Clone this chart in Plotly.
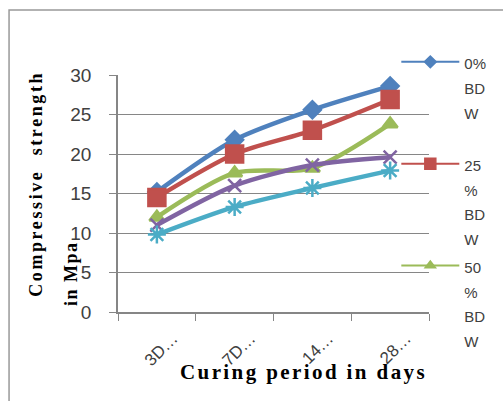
import plotly.graph_objects as go

categories = ["3D…", "7D…", "14…", "28…"]
series_names = ["0%<br>BD<br>W<br> ", "25<br>%<br>BD<br>W", "50<br>%<br>BD<br>W", "75<br>%<br>BD<br>W", "100<br>%<br>BD<br>W"]
bdw_0 = [15.2, 21.8, 25.6, 28.6]
bdw_25 = [14.5, 20.0, 23.0, 26.9]
bdw_50 = [12.0, 17.6, 18.2, 23.8]
bdw_75 = [11.0, 16.0, 18.6, 19.6]
bdw_100 = [9.8, 13.3, 15.7, 17.9]
y_ticks = [0, 5, 10, 15, 20, 25, 30]

colors = ["#4F81BD", "#C0504D", "#9BBB59", "#8064A2", "#4BACC6"]
symbols = ["diamond", "square", "triangle-up", "x-thin-open", "asterisk-open"]
msizes = [13, 17, 13, 13, 15]
legend_msizes = [9, 11, 9, 9, 9]
values = [bdw_0, bdw_25, bdw_50, bdw_75, bdw_100]
show = [True, True, True, False, False]

fig = go.Figure()
for name, vals, c, s, ms in zip(series_names, values, colors, symbols, msizes):
    fig.add_trace(go.Scatter(
        x=categories, y=vals, name=name,
        mode="lines+markers",
        line=dict(color=c, width=4.5, shape="spline", smoothing=0.8),
        marker=dict(symbol=s, size=ms, color=c, line=dict(color=c, width=2.5)),
        showlegend=False,
    ))
# legend-only entries (thin line, small marker as in the reference legend)
for name, c, s, lms, sh in zip(series_names, colors, symbols, legend_msizes, show):
    if not sh:
        continue
    fig.add_trace(go.Scatter(
        x=[None], y=[None], name='<span style="font-size:15px">' + name + '</span>',
        mode="lines+markers",
        line=dict(color=c, width=2),
        marker=dict(symbol=s, size=lms, color=c, line=dict(color=c, width=1.5)),
        showlegend=True,
    ))

W, H = 503, 401
L, R, T, B = 118, 432, 75, 312
pw, ph = R - L, B - T

def px(x):
    return (x - L) / pw

def py(y):
    return (B - y) / ph

serif = "Liberation Serif, Times New Roman, serif"

fig.update_layout(
    width=W, height=H,
    margin=dict(l=L, r=W - R, t=T, b=H - B),
    paper_bgcolor="white", plot_bgcolor="white",
    font=dict(family="Liberation Sans, Arial, sans-serif", color="#404040"),
    legend=dict(
        x=px(399), y=py(43), xanchor="left", yanchor="top",
        font=dict(size=19, color="#404040"),
        valign="top", itemwidth=58, tracegroupgap=0,
        bgcolor="rgba(0,0,0,0)", maxheight=600,
    ),
    xaxis=dict(
        type="category", tickangle=-45, tickson="boundaries",
        ticks="outside", ticklen=7, tickcolor="#868686",
        showline=True, linecolor="#868686", linewidth=1.5,
        showgrid=False, tickfont=dict(size=17, color="#404040"),
        range=[-0.5, 3.5], ticklabelshift=16, ticklabelstandoff=8,
    ),
    yaxis=dict(
        range=[0, 30], tickvals=y_ticks,
        ticks="outside", ticklen=7, tickcolor="#868686",
        showline=True, linecolor="#868686", linewidth=1.5,
        showgrid=True, gridcolor="#868686", gridwidth=1.2,
        zeroline=False, tickfont=dict(size=19, color="#404040"),
        ticklabelstandoff=14,
    ),
    shapes=[dict(type="rect", xref="paper", yref="paper",
                 x0=px(8), x1=px(560), y0=py(460), y1=py(10),
                 line=dict(color="#999999", width=1.5), layer="below")],
    annotations=[
        dict(text='<b><span style="letter-spacing:2.6px">Compressive  strength</span></b>',
             xref="paper", yref="paper",
             x=px(35), y=py(299), xanchor="center", yanchor="bottom",
             textangle=-90, showarrow=False,
             font=dict(family=serif, size=18, color="black")),
        dict(text='<b><span style="letter-spacing:1.5px">in Mpa</span></b>',
             xref="paper", yref="paper",
             x=px(70), y=py(308), xanchor="center", yanchor="bottom",
             textangle=-90, showarrow=False,
             font=dict(family=serif, size=18, color="black")),
        dict(text='<b><span style="letter-spacing:2.4px">Curing period in days</span></b>',
             xref="paper", yref="paper",
             x=px(305), y=py(372), xanchor="center", yanchor="middle",
             showarrow=False,
             font=dict(family=serif, size=21, color="black")),
    ],
)

fig.write_html("out.html")
